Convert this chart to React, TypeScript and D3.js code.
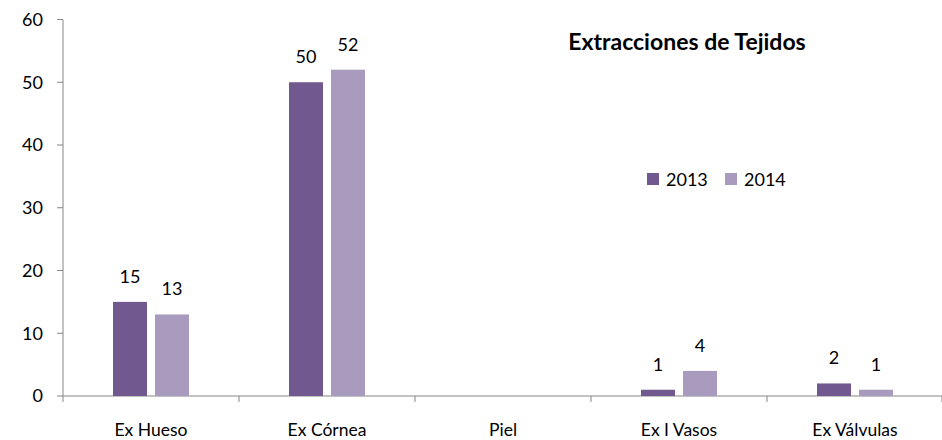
import React from "react";
import * as d3 from "d3";

const categories = ["Ex Hueso", "Ex Córnea", "Piel", "Ex I Vasos", "Ex Válvulas"];
const series = ["2013", "2014"];
const values2013: (number | null)[] = [15, 50, null, 1, 2];
const values2014: (number | null)[] = [13, 52, null, 4, 1];
const yTicks = [0, 10, 20, 30, 40, 50, 60];
const colors = ["#71588F", "#A99BBD"];
const title = "Extracciones de Tejidos";

const W = 942, H = 440;
const left = 63, right = 943, top = 19.5, bottom = 396;
const font = "Lato, 'Open Sans', 'Liberation Sans', sans-serif";

export default function App() {
  const x = d3.scaleBand<string>().domain(categories).range([left, right]);
  const y = d3.scaleLinear().domain([0, 60]).range([bottom, top]);
  const barW = 34, gap = 8;
  const all = [values2013, values2014];
  return (
    <svg width={W} height={H} style={{ position: "absolute", left: 0, top: 0, background: "#fff" }}>
      <line x1={left} x2={left} y1={top} y2={bottom} stroke="#868686" strokeWidth={1} />
      {yTicks.map((t) => (
        <g key={t}>
          <line x1={left - 6} x2={left} y1={y(t)} y2={y(t)} stroke="#868686" />
          <text x={43} y={y(t)} dy="0.35em" textAnchor="end" fontFamily={font} fontSize={18} fill="#000">{t}</text>
        </g>
      ))}
      <line x1={left} x2={right} y1={bottom} y2={bottom} stroke="#868686" />
      {categories.map((c, i) => (
        <line key={"t" + i} x1={(x(c) as number)} x2={(x(c) as number)} y1={bottom} y2={bottom + 6} stroke="#868686" />
      ))}
      <line x1={right - 1} x2={right - 1} y1={bottom} y2={bottom + 6} stroke="#868686" />
      {categories.map((c) => (
        <text key={c} x={(x(c) as number) + x.bandwidth() / 2} y={430} dy="0.35em" textAnchor="middle" fontFamily={font} fontSize={17.5} fill="#000">{c}</text>
      ))}
      {all.map((vals, si) =>
        vals.map((v, i) => {
          if (v == null) return null;
          const cx = (x(categories[i]) as number) + x.bandwidth() / 2;
          const bx = si === 0 ? cx - gap / 2 - barW : cx + gap / 2;
          return (
            <g key={si + "-" + i}>
              <rect x={bx} y={y(v)} width={barW} height={bottom - y(v)} fill={colors[si]} />
              <text x={bx + barW / 2} y={y(v) - 19} textAnchor="middle" fontFamily={font} fontSize={18} fill="#000">{v}</text>
            </g>
          );
        })
      )}
      <text x={687} y={50} textAnchor="middle" fontFamily={font} fontSize={23} fontWeight="bold" fill="#000">{title}</text>
      {series.map((s, i) => (
        <g key={s} transform={`translate(${647 + i * 78},173)`}>
          <rect x={0} y={0} width={12} height={12} fill={colors[i]} />
          <text x={19} y={6.5} dy="0.35em" fontFamily={font} fontSize={18} fill="#000">{s}</text>
        </g>
      ))}
    </svg>
  );
}
